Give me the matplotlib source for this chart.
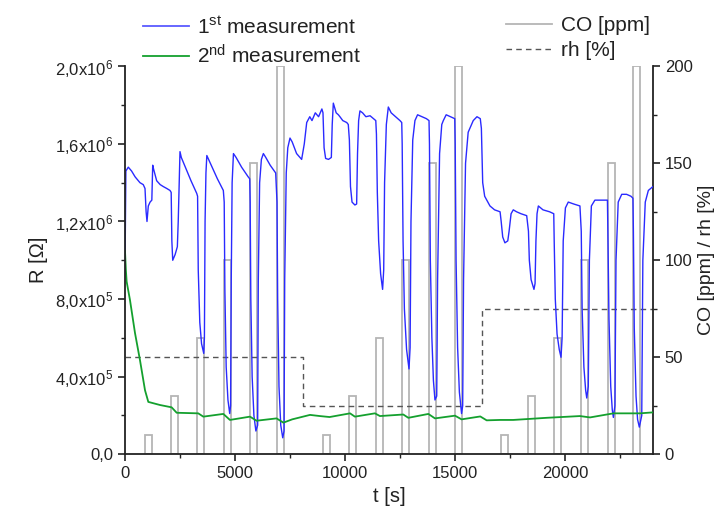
import matplotlib
matplotlib.use("Agg")
import matplotlib.pyplot as plt
from matplotlib.lines import Line2D
from matplotlib.ticker import MultipleLocator, FixedLocator, FixedFormatter

plt.rcParams['font.family'] = ['Liberation Sans', 'DejaVu Sans']
plt.rcParams['mathtext.fontset'] = 'custom'
plt.rcParams['mathtext.rm'] = 'Liberation Sans'
plt.rcParams['mathtext.it'] = 'Liberation Sans:italic'

# 1st measurement, R in units of 1e6 Ohm
blue_t = [0, 40, 150, 300, 460, 680, 830, 910,
          960, 1000, 1060, 1140, 1220, 1260, 1300, 1440, 1600, 1740, 1900, 2045, 2100,
          2130, 2170, 2280, 2380, 2420, 2500, 2560, 2800, 3000, 3260,
          3300, 3330, 3400, 3480, 3580, 3610, 3640, 3680, 3720, 3800, 4000, 4200, 4470,
          4510, 4540, 4600, 4680, 4760, 4800, 4830, 4870, 4930, 5050, 5300, 5600, 5670,
          5690, 5720, 5780, 5860, 5950, 6030, 6060, 6120, 6200, 6290, 6400, 6600, 6850,
          6910, 6940, 7000, 7080, 7170, 7230, 7260, 7330, 7400, 7500, 7600, 7800, 8030,
          8150, 8260, 8400, 8500, 8650, 8800, 8950,
          9000, 9050, 9120, 9250, 9380, 9420, 9470, 9520, 9600, 9700, 9770, 9900, 10080, 10150,
          10200, 10250, 10320, 10450, 10530, 10570, 10620, 10680, 10800, 10950, 11140, 11300, 11400,
          11430, 11470, 11530, 11620, 11710, 11760, 11800, 11880, 11970, 12100, 12300, 12500, 12580,
          12600, 12640, 12700, 12800, 12910, 12960, 13000, 13080, 13180, 13300, 13500, 13700, 13820,
          13840, 13880, 13950, 14020, 14090, 14170, 14210, 14300, 14400, 14470, 14600, 14800, 14990,
          15010, 15050, 15120, 15200, 15300, 15350, 15390, 15480, 15600, 15830, 16000, 16150,
          16200, 16260, 16350, 16590, 16800, 17050,
          17100, 17170, 17270, 17400, 17460, 17550, 17650, 17800, 18000, 18260,
          18340, 18380, 18460, 18590, 18640, 18680, 18730, 18790, 19000, 19300, 19490,
          19510, 19560, 19640, 19740, 19820, 19870, 19920, 20020, 20150, 20400, 20680,
          20740, 20780, 20860, 20940, 20990, 21060, 21110, 21200, 21360, 21600, 21930,
          21950, 22000, 22080, 22150, 22200, 22270, 22320, 22420, 22580, 22800, 23000, 23090,
          23110, 23150, 23230, 23300, 23380, 23490, 23540, 23650, 23790, 24000]
blue_r = [0.95, 1.46, 1.48, 1.46, 1.43, 1.40, 1.39, 1.37,
          1.25, 1.20, 1.28, 1.30, 1.31, 1.49, 1.47, 1.41, 1.39, 1.38, 1.37, 1.36, 1.35,
          1.10, 1.00, 1.03, 1.07, 1.20, 1.56, 1.53, 1.465, 1.41, 1.345,
          1.33, 0.95, 0.68, 0.57, 0.52, 0.60, 1.20, 1.45, 1.54, 1.52, 1.47, 1.42, 1.36,
          1.30, 0.85, 0.45, 0.28, 0.21, 0.25, 0.90, 1.40, 1.55, 1.53, 1.48, 1.43, 1.42,
          1.30, 0.80, 0.40, 0.20, 0.12, 0.15, 0.90, 1.40, 1.52, 1.55, 1.53, 1.49, 1.45,
          1.30, 0.80, 0.35, 0.15, 0.085, 0.12, 0.90, 1.45, 1.58, 1.63, 1.61, 1.55, 1.52,
          1.60, 1.71, 1.74, 1.72, 1.76, 1.74, 1.78,
          1.76, 1.58, 1.525, 1.52, 1.53, 1.70, 1.81, 1.79, 1.76, 1.75, 1.74, 1.72, 1.71, 1.70,
          1.62, 1.38, 1.30, 1.285, 1.29, 1.55, 1.72, 1.77, 1.76, 1.74, 1.745, 1.73, 1.72,
          1.65, 1.35, 1.10, 0.93, 0.85, 0.95, 1.40, 1.70, 1.79, 1.76, 1.74, 1.72, 1.71,
          1.60, 1.10, 0.75, 0.54, 0.44, 0.55, 1.20, 1.62, 1.72, 1.75, 1.74, 1.73, 1.72,
          1.60, 1.00, 0.60, 0.38, 0.28, 0.30, 0.90, 1.55, 1.70, 1.72, 1.75, 1.74, 1.73,
          1.60, 1.00, 0.55, 0.32, 0.21, 0.25, 0.90, 1.50, 1.66, 1.72, 1.74, 1.73,
          1.68, 1.40, 1.33, 1.28, 1.26, 1.25,
          1.20, 1.12, 1.09, 1.10, 1.15, 1.24, 1.26, 1.25, 1.24, 1.23,
          1.15, 1.00, 0.90, 0.85, 0.88, 1.10, 1.24, 1.28, 1.26, 1.25, 1.24,
          1.10, 0.80, 0.62, 0.54, 0.50, 0.60, 1.10, 1.27, 1.30, 1.29, 1.28,
          1.15, 0.75, 0.45, 0.33, 0.29, 0.35, 1.00, 1.28, 1.31, 1.31, 1.31,
          1.15, 0.70, 0.35, 0.23, 0.19, 0.25, 1.00, 1.30, 1.34, 1.34, 1.33, 1.32,
          1.15, 0.65, 0.30, 0.18, 0.14, 0.20, 1.00, 1.30, 1.36, 1.38]

# 2nd measurement, R in units of 1e6 Ohm
green_t = [0, 40, 75, 227, 455, 680, 910, 1060, 1590, 2120, 2350, 3330, 3560,
           4470, 4770, 5680, 5980, 6890, 7200, 7600, 8410, 8860, 9300, 10230, 10450,
           11360, 11590, 12650, 12880, 13790, 14090, 15000, 15300, 16150, 16440,
           17050, 17650, 19170, 20680, 21140, 22200, 23410, 24000]
green_r = [1.05, 0.95, 0.89, 0.795, 0.625, 0.486, 0.33, 0.27, 0.254, 0.242, 0.214, 0.211, 0.194,
           0.208, 0.177, 0.194, 0.173, 0.185, 0.163, 0.18, 0.203, 0.197, 0.192, 0.211, 0.194,
           0.211, 0.197, 0.205, 0.188, 0.208, 0.185, 0.199, 0.180, 0.195, 0.175,
           0.177, 0.177, 0.188, 0.197, 0.190, 0.211, 0.211, 0.216]

# CO pulses
co_start = [910, 2090, 3290, 4500, 5680, 6900,
            8980, 10180, 11420, 12590, 13830, 15000,
            17080, 18330, 19500, 20730, 21940, 23100]
co_ppm = [10, 30, 60, 100, 150, 200,
          10, 30, 60, 100, 150, 200,
          10, 30, 60, 100, 150, 200]
co_width = 320

# relative humidity steps
rh_t = [0, 8080, 16230, 24000]
rh_val = [50, 25, 75, 75]

r_ticks = [0, 0.4e6, 0.8e6, 1.2e6, 1.6e6, 2.0e6]
r_labels = ['0,0', '4,0x10$^{5}$', '8,0x10$^{5}$', '1,2x10$^{6}$', '1,6x10$^{6}$', '2,0x10$^{6}$']

fig = plt.figure(figsize=(7.2, 5.19), dpi=100)
ax = fig.add_axes([0.1736, 0.1247, 0.7333, 0.7476])
ax2 = ax.twinx()
ax.set_zorder(ax2.get_zorder() + 1)
ax.patch.set_visible(False)

ax2.bar(co_start, co_ppm, width=co_width, align='edge', facecolor='none',
        edgecolor='#b5b5b5', linewidth=1.3)
ax2.plot(rh_t, rh_val, drawstyle='steps-post', color='#555555', linewidth=1.0,
         dashes=(4, 3))

ax.plot(blue_t, [r * 1e6 for r in blue_r], color='#2a2aff', linewidth=1.0)
ax.plot(green_t, [r * 1e6 for r in green_r], color='#14a02e', linewidth=1.3)

ax.set_xlim(0, 24000)
ax.set_ylim(0, 2.0e6)
ax2.set_ylim(0, 200)

ax.xaxis.set_major_locator(MultipleLocator(5000))
ax.xaxis.set_minor_locator(MultipleLocator(2500))
ax.yaxis.set_major_locator(FixedLocator(r_ticks))
ax.yaxis.set_major_formatter(FixedFormatter(r_labels))
ax.yaxis.set_minor_locator(MultipleLocator(2e5))
ax2.yaxis.set_major_locator(MultipleLocator(50))
ax2.yaxis.set_minor_locator(MultipleLocator(25))

for a in (ax, ax2):
    a.spines['top'].set_visible(False)
    for s in ('left', 'right', 'bottom'):
        a.spines[s].set_linewidth(1.3)
        a.spines[s].set_color('#222222')
    a.tick_params(which='major', direction='out', length=5, width=1.2,
                  labelsize=12, colors='#222222')
    a.tick_params(which='minor', direction='out', length=3, width=1.0, colors='#222222')
ax.spines['right'].set_visible(False)
ax2.spines['left'].set_visible(False)
ax2.spines['bottom'].set_visible(False)

ax.set_xlabel('t [s]', fontsize=14.5, color='#222222', labelpad=4)
ax.set_ylabel('R [Ω]', fontsize=14.5, color='#222222', labelpad=5)
ax2.set_ylabel('CO [ppm] / rh [%]', fontsize=14, color='#222222', labelpad=4)

h1 = [Line2D([], [], color='#5a5aff', linewidth=1.3),
      Line2D([], [], color='#14a02e', linewidth=1.3)]
fig.legend(h1, ['1$^{\\mathrm{st}}$ measurement', '2$^{\\mathrm{nd}}$ measurement'],
           loc='upper left', bbox_to_anchor=(0.184, 0.989), frameon=False,
           fontsize=15, handlelength=2.2, handletextpad=0.4, labelspacing=0.3,
           borderpad=0, labelcolor='#222222')
h2 = [Line2D([], [], color='#b5b5b5', linewidth=1.3),
      Line2D([], [], color='#555555', linewidth=1.0, dashes=(4, 3))]
fig.legend(h2, ['CO [ppm]', 'rh [%]'],
           loc='upper left', bbox_to_anchor=(0.689, 0.989), frameon=False,
           fontsize=15, handlelength=2.2, handletextpad=0.4, labelspacing=0.3,
           borderpad=0, labelcolor='#222222')

fig.savefig('out.png', dpi=100)
